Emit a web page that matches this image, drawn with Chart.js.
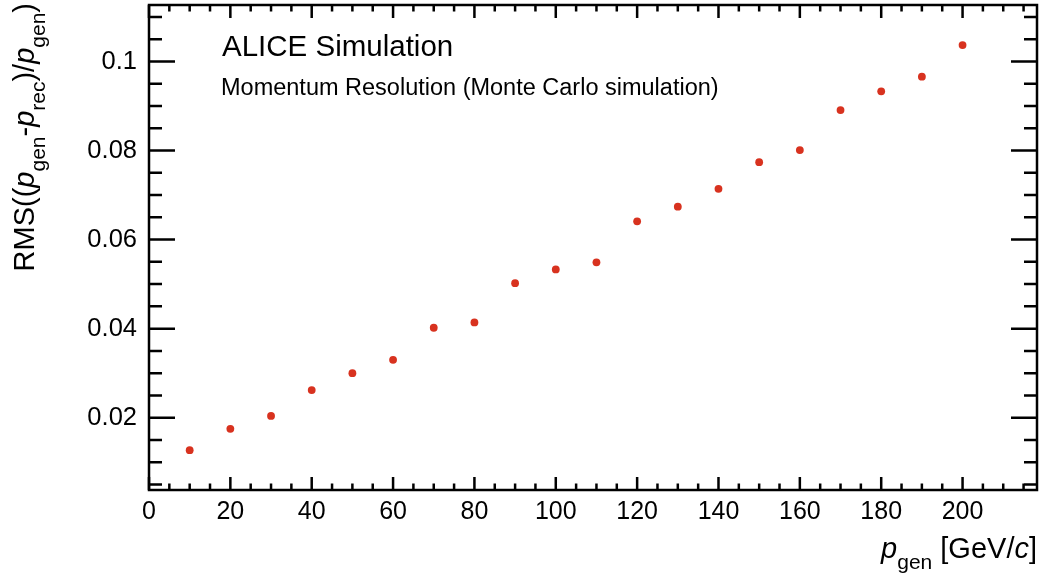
<!DOCTYPE html>
<html>
<head>
<meta charset="utf-8">
<script src="https://cdn.jsdelivr.net/npm/chart.js@4/dist/chart.umd.min.js"></script>
<style>
  html, body { margin: 0; padding: 0; background: #fff; }
  #wrap { width: 1044px; height: 577px; }
</style>
</head>
<body>
<div id="wrap"><canvas id="resChart" width="1044" height="577"></canvas></div>
<script>
'use strict';
/* ---------------------------------------------------------------- DATA */
const pGen = [10, 20, 30, 40, 50, 60, 70, 80, 90, 100, 110, 120, 130, 140, 150, 160, 170, 180, 190, 200];
const rmsRes = [0.0127, 0.0175, 0.0204, 0.0262, 0.0300, 0.0330, 0.0402, 0.0414, 0.0502, 0.0533,
  0.0549, 0.0641, 0.0674, 0.0714, 0.0774, 0.0801, 0.0891, 0.0933, 0.0966, 0.1037];

const xMin = 0, xMax = 218.3, xMajor = 20, xMinor = 5;
const yMin = 0.00375, yMax = 0.1127, yMajor = 0.02, yMinor = 0.005;

const FONT = '"Liberation Sans", Arial, Helvetica, sans-serif';
const dotColor = '#d8321f';

/* ---------------------------------------------------------------- HELPERS */
// draws a run of text pieces one after the other; each piece may be italic and/or subscript
function drawPieces(ctx, pieces, size, subSize, subShift){
  let x = 0;
  for (let piece of pieces){
    let fs = piece.sub ? subSize : size;
    ctx.font = (piece.it ? 'italic ' : '') + fs + 'px ' + FONT;
    ctx.fillText(piece.t, x, piece.sub ? subShift : 0);
    x += ctx.measureText(piece.t).width;
  }
  return x;
}
function piecesWidth(ctx, pieces, size, subSize){
  let w = 0;
  for (let piece of pieces){
    ctx.font = (piece.it ? 'italic ' : '') + (piece.sub ? subSize : size) + 'px ' + FONT;
    w += ctx.measureText(piece.t).width;
  }
  return w;
}

/* ---------------------------------------------------------------- ROOT STYLE FRAME PLUGIN */
const rootFrame = {
  id: 'rootFrame',
  afterDraw(chart){
    const ctx = chart.ctx;
    const area = chart.chartArea;
    const xs = chart.scales.x;
    const ys = chart.scales.y;
    ctx.save();
    ctx.strokeStyle = '#000';
    ctx.lineWidth = 2.5;
    ctx.strokeRect(area.left, area.top, area.right - area.left, area.bottom - area.top);

    // x ticks, bottom and top, pointing inward
    ctx.beginPath();
    for (let v = xMin; v <= xMax + 1e-9; v += xMinor){
      let px = xs.getPixelForValue(v);
      let len = (Math.round(v / xMinor) % (xMajor / xMinor) === 0) ? 13 : 6.5;
      ctx.moveTo(px, area.bottom);
      ctx.lineTo(px, area.bottom - len);
      ctx.moveTo(px, area.top);
      ctx.lineTo(px, area.top + len);
    }
    // y ticks, left and right
    for (let k = 1; k * yMinor <= yMax; k++){
      let v = k * yMinor;
      if (v < yMin) continue;
      let py = ys.getPixelForValue(v);
      let len = (k % 4 === 0) ? 26 : 13;
      ctx.moveTo(area.left, py);
      ctx.lineTo(area.left + len, py);
      ctx.moveTo(area.right, py);
      ctx.lineTo(area.right - len, py);
    }
    ctx.stroke();

    ctx.fillStyle = '#000';
    ctx.textBaseline = 'alphabetic';
    ctx.textAlign = 'left';

    // labels inside the pad
    ctx.font = '29.5px ' + FONT;
    ctx.fillText('ALICE Simulation', 222, 56);
    ctx.font = '23.5px ' + FONT;
    ctx.fillText('Momentum Resolution (Monte Carlo simulation)', 221, 95);

    // x axis title, right aligned
    const xTitle = [
      {t: 'p', it: true}, {t: 'gen', sub: true}, {t: ' [GeV/'}, {t: 'c', it: true}, {t: ']'}
    ];
    let w = piecesWidth(ctx, xTitle, 29, 21);
    ctx.save();
    ctx.translate(area.right - w, 558);
    drawPieces(ctx, xTitle, 29, 21, 11);
    ctx.restore();

    // y axis title, rotated, right aligned to the top
    const yTitle = [
      {t: 'RMS(('}, {t: 'p', it: true}, {t: 'gen', sub: true}, {t: '-'},
      {t: 'p', it: true}, {t: 'rec', sub: true}, {t: ')/'},
      {t: 'p', it: true}, {t: 'gen', sub: true}, {t: ')'}
    ];
    let wy = piecesWidth(ctx, yTitle, 29, 21);
    ctx.save();
    ctx.translate(34, 3 + wy);
    ctx.rotate(-Math.PI / 2);
    drawPieces(ctx, yTitle, 29, 21, 11);
    ctx.restore();

    ctx.restore();
  }
};

/* ---------------------------------------------------------------- CHART */
const points = pGen.map((p, i) => ({x: p, y: rmsRes[i]}));

new Chart(document.getElementById('resChart'), {
  type: 'scatter',
  data: {
    datasets: [{
      data: points,
      backgroundColor: dotColor,
      borderColor: dotColor,
      pointRadius: 3.9,
      borderWidth: 0
    }]
  },
  options: {
    responsive: false,
    animation: false,
    layout: { padding: { top: 5, right: 7, left: 0, bottom: 0 } },
    plugins: { legend: { display: false }, tooltip: { enabled: false } },
    scales: {
      x: {
        type: 'linear',
        min: xMin,
        max: xMax,
        grid: { display: false, drawTicks: false },
        border: { display: false },
        ticks: {
          stepSize: xMajor,
          includeBounds: false,
          padding: 7,
          color: '#000',
          font: { family: FONT, size: 25 },
          maxRotation: 0,
          callback: (v) => String(v)
        },
        afterFit: (scale) => {
          scale.height = 87;
          scale.paddingLeft = 0;
          scale.paddingRight = 0;
        }
      },
      y: {
        type: 'linear',
        min: yMin,
        max: yMax,
        grid: { display: false, drawTicks: false },
        border: { display: false },
        ticks: {
          stepSize: yMajor,
          includeBounds: false,
          padding: 12,
          color: '#000',
          font: { family: FONT, size: 25.5 },
          callback: (v) => String(parseFloat(v.toFixed(3)))
        },
        afterFit: (scale) => {
          scale.width = 149;
          scale.paddingTop = 0;
          scale.paddingBottom = 0;
        }
      }
    }
  },
  plugins: [rootFrame]
});
</script>
</body>
</html>
